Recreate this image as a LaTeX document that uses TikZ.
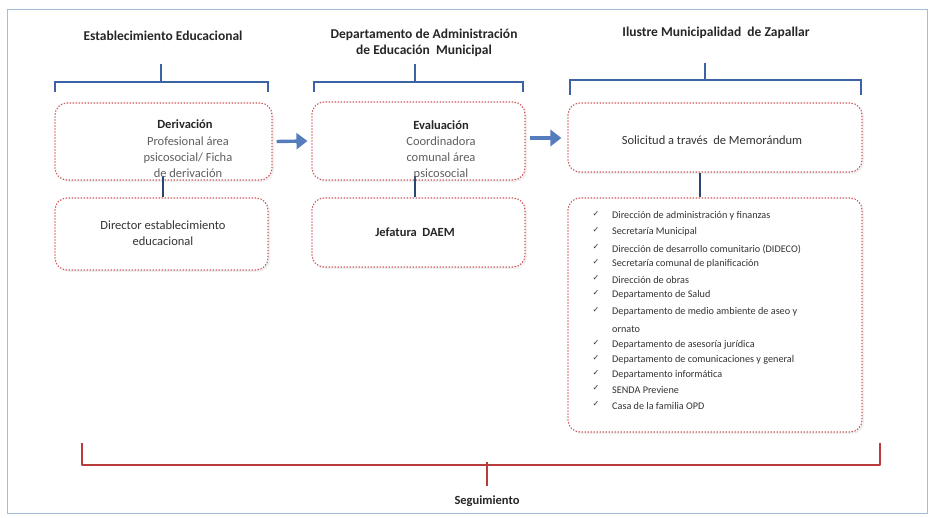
\documentclass[tikz,border=0pt]{standalone}
\usepackage{fontspec}
\setmainfont{Carlito}
\newfontfamily\symfont{DejaVu Sans}
\usetikzlibrary{arrows.meta,calc,shadows}
\definecolor{boxred}{RGB}{205,85,90}
\definecolor{brblue}{RGB}{60,100,165}
\definecolor{arblue}{RGB}{85,125,190}
\definecolor{framec}{RGB}{160,190,215}
\definecolor{txtgray}{RGB}{95,95,95}
\definecolor{segred}{RGB}{185,60,60}
\tikzset{
  x=1pt,y=-1pt,
  dotbox/.style={draw=boxred,line width=1.1pt,dash pattern=on 1.4pt off 1.6pt,rounded corners=12pt,inner sep=0pt,fill=white,
    drop shadow={opacity=0.12,shadow xshift=2pt,shadow yshift=-2pt}},
  hdr/.style={font=\bfseries\fontsize{13.5}{16}\selectfont,align=center,text=black!85},
  txt/.style={font=\fontsize{12.5}{16}\selectfont,text=txtgray,align=center},
  btxt/.style={font=\bfseries\fontsize{12.5}{15}\selectfont,text=black!85},
  itm/.style={font=\fontsize{10.2}{12}\selectfont,text=black!80,anchor=west,inner sep=0pt},
  chk/.style={font=\symfont\fontsize{8}{9}\selectfont,text=black!80,inner sep=0pt},
  brace/.style={draw=brblue,line width=1.5pt},
  vline/.style={draw=brblue!70!black,line width=2.2pt},
  arr/.style={draw=arblue,line width=3.4pt,-{Triangle[length=11pt,width=16pt]}},
}
\begin{document}
\begin{tikzpicture}
\useasboundingbox (0,0) rectangle (934,518);
\draw[framec,line width=1pt] (7,10) rectangle (927,513);

% headers
\node[hdr] (h1) at (163,36) {Establecimiento Educacional};
\node[hdr] (h2) at (424,43) {Departamento de Administración\\de Educación\ \ Municipal};
\node[hdr] (h3) at (716,33) {Ilustre Municipalidad\ \ de Zapallar};

% braces
\coordinate (b1s) at (161,64);
\draw[brace] (b1s) -- (161,82) (55,92) -- (55,82) -- (268,82) -- (268,92);
\coordinate (b2s) at (415,64);
\draw[brace] (b2s) -- (415,82) (314,92) -- (314,82) -- (523,82) -- (523,92);
\coordinate (b3s) at (705,63);
\draw[brace] (b3s) -- (705,80) (570,95) -- (570,80) -- (861,80) -- (861,95);

% boxes
\node[dotbox,minimum width=217pt,minimum height=77pt] (box1) at (163.5,141.5) {};
\node[dotbox,minimum width=213pt,minimum height=72pt] (box2) at (161.5,234) {};
\node[dotbox,minimum width=213pt,minimum height=78pt] (box3) at (418.5,141) {};
\node[dotbox,minimum width=213pt,minimum height=69pt] (box4) at (418.5,232.5) {};
\node[dotbox,minimum width=294pt,minimum height=69pt] (box5) at (715,137.5) {};
\node[dotbox,minimum width=294pt,minimum height=234pt] (box6) at (715,315) {};

% vertical connectors
\draw[vline] ([xshift=-0.5pt,yshift=5pt]box1.south) -- ([xshift=1.5pt]box2.north);
\draw[vline] ([xshift=-3.5pt,yshift=5pt]box3.south) -- ([xshift=-3.5pt]box4.north);
\draw[vline] ([xshift=-15pt]box5.south) -- ([xshift=-15pt]box6.north);

% arrows
\draw[arr] ([xshift=4pt]box1.east) -- ([xshift=-4pt]box3.west);
\draw[arr] ($(box3.east)+(4,-3)$) -- ($(box5.west |- box3.east)+(-6,-3)$);

% box texts
\node[btxt] (t1a) at (185,124) {Derivación};
\node[txt] (t1b) at (188,157) {Profesional área\\psicosocial/ Ficha\\de derivación};
\node[txt,text=black!80] (t2) at (163,233) {Director establecimiento\\educacional};
\node[btxt] (t3a) at (441,125) {Evaluación};
\node[txt] (t3b) at (441,158) {Coordinadora\\comunal área\\psicosocial};
\node[btxt] (t4) at (415,232) {Jefatura\ \ DAEM};
\node[txt,text=black!80] (t5) at (712,140) {Solicitud a través\ \ de Memorándum};

% list
\foreach \y/\t [count=\i] in {
  216/{Dirección de administración y finanzas},
  232/{Secretaría Municipal},
  249/{Dirección de desarrollo comunitario (DIDECO)},
  264/{Secretaría comunal de planificación},
  280/{Dirección de obras},
  295/{Departamento de Salud},
  312/{Departamento de medio ambiente de aseo y},
  345/{Departamento de asesoría jurídica},
  360/{Departamento de comunicaciones y general},
  375/{Departamento informática},
  390/{SENDA Previene},
  406/{Casa de la familia OPD}}{
  \node[chk] (c\i) at (596,\y-2) {✓};
  \node[itm] (l\i) at (612,\y) {\t};
}
\node[itm] (l7b) at (612,329) {ornato};

% seguimiento brace
\coordinate (sl) at (82,443);
\coordinate (sr) at (880,443);
\draw[segred,line width=1.6pt,line join=round] (sl) -- (82,465) -- (880,465) -- (sr);
\draw[segred,line width=2pt] (487,462) -- (487,486);
\node[btxt] (seg) at (487,501) {Seguimiento};
\end{tikzpicture}
\end{document}
